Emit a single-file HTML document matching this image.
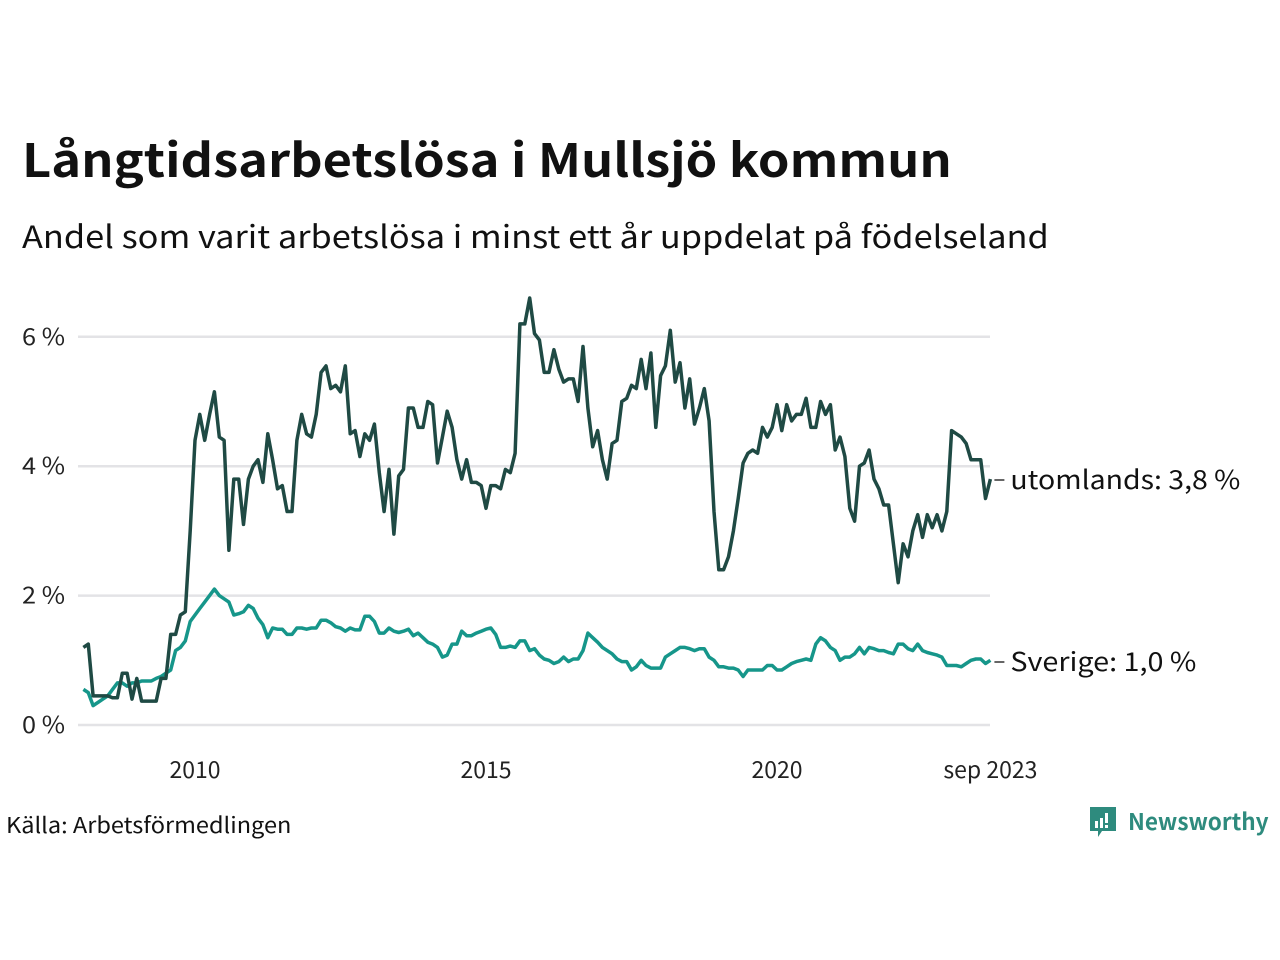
<!DOCTYPE html>
<html><head><meta charset="utf-8"><style>
html,body{margin:0;padding:0;background:#fff;}
body{width:1280px;height:960px;position:relative;overflow:hidden;font-family:"Noto Sans CJK SC","Liberation Sans",sans-serif;color:#111;}
.t{position:absolute;white-space:nowrap;transform-origin:0 0;}
</style></head><body>
<div class="t" style="left:22px;top:126px;font-size:46px;font-weight:700;line-height:64px;transform:scaleX(1.1);">Långtidsarbetslösa i Mullsjö kommun</div>
<div class="t" style="left:22px;top:212px;font-size:31px;line-height:46px;transform:scaleX(1.108);">Andel som varit arbetslösa i minst ett år uppdelat på födelseland</div>
<svg id="chart" width="1280" height="960" style="position:absolute;left:0;top:0;" xmlns="http://www.w3.org/2000/svg"></svg>
<div class="t" style="left:6px;top:808px;font-size:22px;line-height:32px;transform:scaleX(1.07);">Källa: Arbetsförmedlingen</div>
<div style="position:absolute;left:1088px;top:805px;">
<svg width="30" height="36" viewBox="0 0 30 36" style="position:absolute;left:0;top:0;"><path d="M2 2h26v24H14l-4 6v-6H2z" fill="#2e8b7e"/><rect x="7" y="16" width="3" height="7" fill="#fff"/><rect x="12" y="13" width="3" height="10" fill="#fff"/><rect x="17" y="8" width="3" height="10" fill="#fff"/><rect x="17" y="20" width="3" height="3" fill="#fff"/></svg>
<div class="t" style="left:40px;top:-1px;font-size:23px;font-weight:600;color:#2e8b7e;line-height:32px;transform:scaleX(0.98);">Newsworthy</div>
</div>
<script>
const startYear = 2008, startMonth = 2;
const utomlands = [
1.2,1.25,0.45,0.45,0.45,0.45,0.42,0.42,0.8,0.8,0.4,
0.72,0.37,0.37,0.37,0.37,0.72,0.72,1.4,1.4,1.7,1.75,3.0,
4.4,4.8,4.4,4.8,5.15,4.45,4.4,2.7,3.8,3.8,3.1,3.8,
4.0,4.1,3.75,4.5,4.1,3.65,3.7,3.3,3.3,4.4,4.8,4.5,
4.45,4.8,5.45,5.55,5.2,5.25,5.15,5.55,4.5,4.55,4.15,4.5,
4.4,4.65,3.9,3.3,3.95,2.95,3.85,3.95,4.9,4.9,4.6,4.6,
5.0,4.95,4.05,4.45,4.85,4.6,4.1,3.8,4.1,3.75,3.75,3.7,
3.35,3.7,3.7,3.65,3.95,3.9,4.2,6.2,6.2,6.6,6.05,5.95,
5.45,5.45,5.8,5.5,5.3,5.35,5.35,5.0,5.85,4.9,4.3,4.55,
4.1,3.8,4.35,4.4,5.0,5.05,5.25,5.2,5.65,5.2,5.75,4.6,
5.4,5.55,6.1,5.3,5.6,4.9,5.35,4.65,4.9,5.2,4.7,3.3,
2.4,2.4,2.6,3.0,3.5,4.05,4.2,4.25,4.2,4.6,4.45,4.6,
4.95,4.55,4.95,4.7,4.8,4.8,5.05,4.6,4.6,5.0,4.8,4.95,
4.25,4.45,4.15,3.35,3.15,4.0,4.05,4.25,3.8,3.65,3.4,3.4,
2.8,2.2,2.8,2.6,3.0,3.25,2.9,3.25,3.05,3.25,3.0,3.3,
4.55,4.5,4.45,4.35,4.1,4.1,4.1,3.5,3.8];
const sverige = [
0.55,0.5,0.3,0.35,0.4,0.45,0.55,0.65,0.65,0.6,0.65,
0.65,0.68,0.68,0.68,0.72,0.75,0.8,0.85,1.15,1.2,1.3,1.6,
1.7,1.8,1.9,2.0,2.1,2.0,1.95,1.9,1.7,1.72,1.75,1.85,
1.8,1.65,1.55,1.35,1.5,1.48,1.48,1.4,1.4,1.5,1.5,1.48,
1.5,1.5,1.62,1.62,1.58,1.52,1.5,1.45,1.5,1.47,1.47,1.68,
1.68,1.6,1.42,1.42,1.5,1.45,1.43,1.45,1.48,1.38,1.42,1.35,
1.28,1.25,1.2,1.05,1.08,1.25,1.25,1.45,1.38,1.38,1.42,1.45,
1.48,1.5,1.4,1.2,1.2,1.22,1.2,1.3,1.3,1.15,1.18,1.08,
1.02,1.0,0.95,0.98,1.05,0.98,1.02,1.02,1.15,1.42,1.35,1.28,
1.2,1.15,1.1,1.02,0.98,0.98,0.85,0.9,1.0,0.92,0.88,0.88,
0.88,1.05,1.1,1.15,1.2,1.2,1.18,1.15,1.18,1.18,1.05,1.0,
0.9,0.9,0.88,0.88,0.85,0.75,0.85,0.85,0.85,0.85,0.92,0.92,
0.85,0.85,0.9,0.95,0.98,1.0,1.02,1.0,1.25,1.35,1.3,1.2,
1.15,1.0,1.05,1.05,1.1,1.2,1.1,1.2,1.18,1.15,1.15,1.12,
1.1,1.25,1.25,1.18,1.15,1.25,1.15,1.12,1.1,1.08,1.05,0.92,
0.92,0.92,0.9,0.95,1.0,1.02,1.02,0.95,1.0];
const yTicks = [0,2,4,6];
const yTickLabels = ["0 %","2 %","4 %","6 %"];
const xTicks = [2010,2015,2020,2023+8/12];
const xTickLabels = ["2010","2015","2020","sep 2023"];
const seriesLabels = ["utomlands: 3,8 %","Sverige: 1,0 %"];

const NS="http://www.w3.org/2000/svg";
const svg=document.getElementById('chart');
const x = t => 195 + (t-2010)*58.2;
const y = v => 725 - v*64.7;
const tOf = i => startYear + (startMonth-1+i)/12;
const FF='"Noto Sans CJK SC","Liberation Sans",sans-serif';
function mk(tag,attrs){const e=document.createElementNS(NS,tag);for(const k in attrs)e.setAttribute(k,attrs[k]);svg.appendChild(e);return e;}

yTicks.forEach((v,i)=>{
  const g=mk('line',{x1:78,x2:990,y1:y(v),y2:y(v),stroke:'#e3e3e6','stroke-width':2.5});
  
  
  const t=mk('text',{x:22,y:y(v)+8,'font-size':23,fill:'#222','font-family':FF,textLength:43,lengthAdjust:'spacingAndGlyphs'});
  t.textContent=yTickLabels[i];
  
  
});
xTicks.forEach((v,i)=>{
  const t=mk('text',{x:x(v),y:778,'font-size':23,fill:'#222','text-anchor':'middle','font-family':FF});
  t.textContent=xTickLabels[i];
  
  
});
function drawLine(vals,color,name){
  const d=vals.map((v,i)=>(i?'L':'M')+x(tOf(i)).toFixed(1)+' '+y(v).toFixed(1)).join(' ');
  const p=mk('path',{d:d,fill:'none',stroke:color,'stroke-width':3.5,'stroke-linejoin':'round'});
  
  
}
drawLine(sverige,'#16968a','line-sverige');
drawLine(utomlands,'#1f4a44','line-utomlands');
[[utomlands,seriesLabels[0],480,230],[sverige,seriesLabels[1],662,186]].forEach(([vals,lab,ly,w],k)=>{
  const lx=x(tOf(vals.length-1));
  const l=mk('line',{x1:lx+4,x2:lx+14,y1:ly,y2:ly,stroke:'#333','stroke-width':1.5});
  
  
  const t=mk('text',{x:lx+20,y:ly+9,'font-size':26,fill:'#111','font-family':FF,textLength:w,lengthAdjust:'spacingAndGlyphs'});
  t.textContent=lab;
  
  
});
</script>
</body></html>
